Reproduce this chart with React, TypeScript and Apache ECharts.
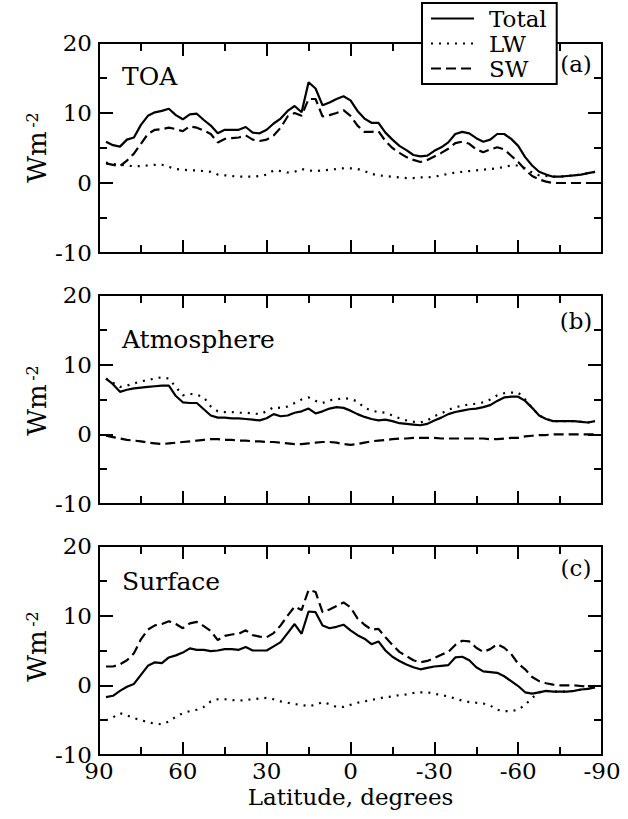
import React, { useEffect, useRef } from 'react';
import * as echarts from 'echarts';

const latitudes = [87.5, 85, 82.5, 80, 77.5, 75, 72.5, 70, 67.5, 65, 62.5, 60, 57.5, 55, 52.5, 50, 47.5, 45, 42.5, 40, 37.5, 35, 32.5, 30, 27.5, 25, 22.5, 20, 17.5, 15, 12.5, 10, 7.5, 5, 2.5, 0, -2.5, -5, -7.5, -10, -12.5, -15, -17.5, -20, -22.5, -25, -27.5, -30, -32.5, -35, -37.5, -40, -42.5, -45, -47.5, -50, -52.5, -55, -57.5, -60, -62.5, -65, -67.5, -70, -72.5, -75, -77.5, -80, -82.5, -85, -87.5];

const toaTotal = [5.9, 5.4, 5.2, 6.2, 6.5, 8.3, 9.6, 10.1, 10.3, 10.6, 9.7, 9.1, 9.8, 9.9, 9.0, 8.2, 7.1, 7.6, 7.6, 7.6, 8.0, 7.2, 7.1, 7.6, 8.5, 9.2, 10.3, 11.0, 10.1, 14.4, 13.5, 11.1, 11.5, 12.0, 12.4, 11.8, 10.3, 9.2, 8.6, 8.6, 7.2, 6.2, 5.3, 4.7, 4.0, 3.8, 3.9, 4.6, 5.1, 5.8, 7.0, 7.3, 7.1, 6.4, 5.9, 6.2, 7.0, 7.0, 6.3, 5.3, 3.7, 2.5, 1.6, 1.2, 0.9, 0.9, 1.0, 1.1, 1.2, 1.4, 1.6];
const toaLW = [2.9, 2.7, 2.6, 2.5, 2.4, 2.4, 2.5, 2.6, 2.6, 2.3, 2.0, 1.9, 1.8, 1.8, 1.7, 1.6, 1.2, 1.1, 1.0, 0.9, 0.9, 0.9, 1.0, 1.2, 1.8, 1.7, 1.5, 1.6, 2.0, 1.8, 1.7, 1.8, 1.9, 2.0, 2.1, 2.1, 2.0, 1.7, 1.3, 1.1, 1.0, 0.9, 0.8, 0.7, 0.7, 0.8, 0.8, 0.9, 1.1, 1.3, 1.5, 1.6, 1.7, 1.8, 1.9, 2.0, 2.1, 2.3, 2.5, 2.5, 2.1, 1.5, 1.1, 1.0, 0.9, 0.9, 1.0, 1.1, 1.2, 1.4, 1.6];
const toaSW = [2.8, 2.6, 2.4, 3.2, 4.2, 5.6, 7.0, 7.6, 7.7, 7.9, 7.7, 7.4, 8.1, 7.9, 7.5, 7.0, 5.8, 6.3, 6.4, 6.5, 6.8, 6.2, 6.0, 6.2, 6.8, 7.9, 9.5, 10.0, 9.6, 12.0, 12.0, 9.5, 9.7, 10.0, 10.4, 9.6, 8.2, 7.3, 7.3, 7.4, 6.0, 5.0, 4.3, 3.7, 3.3, 3.0, 3.3, 3.8, 4.3, 4.9, 5.7, 5.9, 5.6, 4.8, 4.4, 4.8, 5.1, 4.8, 3.9, 3.0, 1.9, 1.0, 0.5, 0.2, 0, 0, 0, 0, 0, 0, 0];

const atmTotal = [8.0, 7.2, 6.1, 6.4, 6.6, 6.7, 6.8, 6.9, 7.0, 7.0, 5.5, 4.6, 4.5, 4.5, 3.6, 2.7, 2.4, 2.4, 2.3, 2.3, 2.2, 2.1, 2.0, 2.3, 2.9, 2.6, 2.7, 3.1, 3.3, 3.7, 3.0, 3.3, 3.7, 3.9, 3.8, 3.4, 2.9, 2.5, 2.2, 2.0, 2.1, 1.9, 1.6, 1.5, 1.4, 1.3, 1.5, 2.0, 2.4, 2.9, 3.2, 3.4, 3.6, 3.7, 3.9, 4.2, 4.8, 5.3, 5.4, 5.4, 4.8, 3.8, 2.7, 2.2, 1.9, 1.9, 1.9, 1.9, 1.8, 1.7, 1.9];
const atmLW = [8.0, 7.4, 6.8, 7.0, 7.3, 7.6, 7.8, 8.0, 8.2, 8.0, 6.8, 5.6, 5.8, 5.7, 5.3, 4.0, 3.3, 3.2, 3.2, 3.1, 3.1, 3.0, 2.9, 3.3, 3.9, 3.8, 4.0, 4.5, 5.0, 5.3, 4.8, 4.5, 4.9, 5.0, 5.2, 5.1, 4.7, 3.8, 3.4, 3.2, 3.1, 2.7, 2.3, 2.0, 1.8, 1.7, 2.0, 2.6, 3.0, 3.5, 3.9, 4.1, 4.3, 4.4, 4.6, 5.0, 5.6, 5.9, 6.0, 6.0, 5.0, 3.8, 2.7, 2.2, 1.9, 1.9, 1.9, 1.9, 1.8, 1.7, 1.9];
const atmSW = [-0.2, -0.4, -0.6, -0.8, -0.9, -1.0, -1.2, -1.3, -1.4, -1.3, -1.2, -1.1, -1.0, -0.9, -0.8, -0.7, -0.7, -0.8, -0.8, -0.9, -0.9, -1.0, -1.0, -1.1, -1.1, -1.2, -1.3, -1.4, -1.4, -1.3, -1.2, -1.1, -1.1, -1.2, -1.4, -1.5, -1.4, -1.2, -1.0, -0.9, -0.8, -0.7, -0.6, -0.6, -0.5, -0.5, -0.5, -0.5, -0.6, -0.6, -0.6, -0.6, -0.6, -0.6, -0.6, -0.7, -0.7, -0.6, -0.5, -0.5, -0.3, -0.2, -0.1, -0.1, 0, 0, 0, 0, 0, 0, 0];

const sfcTotal = [-1.7, -1.5, -0.8, -0.2, 0.2, 1.5, 2.8, 3.3, 3.2, 4.0, 4.3, 4.7, 5.3, 5.1, 5.1, 4.9, 5.0, 5.2, 5.2, 5.1, 5.5, 5.0, 5.0, 5.0, 5.6, 6.2, 7.5, 8.8, 7.4, 10.6, 10.5, 8.6, 8.2, 8.4, 8.7, 7.9, 7.2, 6.7, 5.9, 6.3, 5.0, 4.1, 3.5, 3.0, 2.6, 2.3, 2.5, 2.7, 2.8, 2.9, 4.0, 4.1, 3.6, 2.6, 2.0, 1.9, 1.8, 1.3, 0.6, -0.1, -1.0, -1.2, -1.0, -0.8, -0.9, -0.9, -0.9, -0.8, -0.6, -0.5, -0.3];
const sfcLW = [-5.0, -4.6, -4.0, -4.3, -4.7, -5.0, -5.3, -5.5, -5.6, -5.2, -4.5, -4.0, -3.7, -3.5, -3.1, -2.3, -2.0, -2.0, -2.1, -2.2, -2.1, -2.0, -1.9, -1.8, -2.0, -2.3, -2.5, -2.7, -2.8, -3.0, -2.8, -2.4, -2.7, -3.1, -3.1, -2.8, -2.5, -2.3, -2.1, -1.9, -1.7, -1.6, -1.4, -1.3, -1.1, -1.0, -1.0, -1.2, -1.4, -1.6, -1.9, -2.2, -2.4, -2.5, -2.6, -2.9, -3.5, -3.7, -3.7, -3.5, -2.8, -1.8, -1.0, -0.8, -0.9, -0.9, -0.9, -0.8, -0.6, -0.5, -0.3];
const sfcSW = [2.7, 2.7, 3.0, 3.6, 4.6, 6.6, 8.0, 8.6, 8.8, 9.2, 8.8, 8.2, 8.9, 9.1, 8.5, 7.8, 6.5, 7.1, 7.3, 7.4, 7.9, 7.2, 7.0, 6.9, 7.5, 8.6, 10.0, 11.3, 10.8, 13.7, 13.4, 10.5, 10.9, 11.4, 11.9, 11.2, 9.6, 8.7, 8.0, 8.1, 6.9, 5.8, 4.8, 4.2, 3.6, 3.3, 3.5, 3.9, 4.4, 4.8, 5.8, 6.4, 6.3, 5.4, 4.8, 5.2, 5.9, 5.4, 4.5, 3.1, 2.3, 1.2, 0.6, 0.3, 0.1, 0, 0, 0, -0.1, -0.2, -0.2];

const seriesNames = ['Total', 'LW', 'SW'];
const panelTitles = ['TOA', 'Atmosphere', 'Surface'];
const panelTags = ['(a)', '(b)', '(c)'];
const xAxisTitle = 'Latitude, degrees';

const FONT = 'DejaVu Serif';

export default function App() {
  const ref = useRef<HTMLDivElement>(null);

  useEffect(() => {
    if (!ref.current) return;
    const chart = echarts.init(ref.current, null, { renderer: 'svg' });

    const grids = [
      { left: 99, top: 43, width: 503, height: 210 },
      { left: 99, top: 295, width: 503, height: 209 },
      { left: 99, top: 546, width: 503, height: 209 },
    ];
    const panels = [
      [toaTotal, toaLW, toaSW],
      [atmTotal, atmLW, atmSW],
      [sfcTotal, sfcLW, sfcSW],
    ];
    const lineStyles: any[] = [
      { color: '#000', width: 2.2, type: 'solid' },
      { color: '#000', width: 2.2, type: [2, 6] },
      { color: '#000', width: 2.2, type: [10, 5] },
    ];

    const line = { show: true, onZero: false, lineStyle: { color: '#000', width: 2 } };
    const tick = { show: true, inside: true, length: 13, lineStyle: { color: '#000', width: 2 } };
    const minor = { show: true, splitNumber: 2, length: 8, lineStyle: { color: '#000', width: 2 } };

    const xAxes: any[] = [];
    const yAxes: any[] = [];
    const series: any[] = [];

    grids.forEach((_, i) => {
      const xCommon = {
        gridIndex: i, type: 'value', min: -90, max: 90, interval: 30, inverse: true,
        axisLine: line, axisTick: tick, minorTick: minor,
        splitLine: { show: false }, minorSplitLine: { show: false },
      };
      const last = i === grids.length - 1;
      xAxes.push({
        ...xCommon, position: 'bottom',
        axisLabel: { show: last, fontFamily: FONT, fontSize: 23, color: '#000', margin: 4 },
        name: last ? xAxisTitle : '', nameLocation: 'middle', nameGap: 30,
        nameTextStyle: { fontFamily: FONT, fontSize: 23, color: '#000' },
      });
      xAxes.push({ ...xCommon, position: 'top', axisLabel: { show: false } });

      const yCommon = {
        gridIndex: i, type: 'value', min: -10, max: 20, interval: 10,
        axisLine: line, axisTick: { ...tick, length: 14 }, minorTick: minor,
        splitLine: { show: false }, minorSplitLine: { show: false },
      };
      yAxes.push({
        ...yCommon, position: 'left',
        axisLabel: { show: true, fontFamily: FONT, fontSize: 23, color: '#000', margin: 7 },
      });
      yAxes.push({ ...yCommon, position: 'right', axisLabel: { show: false } });

      panels[i].forEach((vals, s) => {
        series.push({
          type: 'line', name: seriesNames[s],
          xAxisIndex: 2 * i, yAxisIndex: 2 * i,
          data: latitudes.map((lat, k) => [lat, vals[k]]),
          symbol: 'none', showSymbol: false,
          lineStyle: lineStyles[s], itemStyle: { color: '#000' },
          silent: true, z: 2,
        });
      });
    });

    const titleY = [76, 339, 581];
    const tagY = [64, 321, 568];
    const unitY = [157, 410, 656];
    const graphic: any[] = [];
    grids.forEach((_, i) => {
      graphic.push({
        type: 'text', x: 122, y: titleY[i], z: 10,
        style: { text: panelTitles[i], fontFamily: FONT, fontSize: 25, fill: '#000', align: 'left', verticalAlign: 'middle' },
      });
      graphic.push({
        type: 'text', x: 576, y: tagY[i], z: 10,
        style: { text: panelTags[i], fontFamily: FONT, fontSize: 23, fill: '#000', align: 'center', verticalAlign: 'middle' },
      });
      graphic.push({
        type: 'text', x: 37, y: unitY[i], rotation: Math.PI / 2, z: 10,
        style: { text: 'Wm', fontFamily: FONT, fontSize: 26, fill: '#000', align: 'center', verticalAlign: 'middle' },
      });
      graphic.push({
        type: 'text', x: 32, y: unitY[i] - 37, rotation: Math.PI / 2, z: 10,
        style: { text: '-2', fontFamily: FONT, fontSize: 16, fill: '#000', align: 'center', verticalAlign: 'middle' },
      });
    });

    chart.setOption({
      animation: false,
      backgroundColor: '#fff',
      textStyle: { fontFamily: FONT, color: '#000' },
      grid: grids,
      xAxis: xAxes,
      yAxis: yAxes,
      legend: {
        show: true, data: seriesNames, orient: 'vertical', left: 422, top: 3,
        itemWidth: 43, itemHeight: 26, itemGap: 2,
        padding: [4, 10, 4, 8],
        backgroundColor: '#fff', borderColor: '#000', borderWidth: 2,
        itemStyle: { opacity: 0, color: 'rgba(0,0,0,0)', borderWidth: 0 },
        textStyle: { fontFamily: FONT, fontSize: 23, color: '#000', padding: [0, 0, 0, 10] },
        selectedMode: false, z: 20,
      },
      series,
      graphic,
    });

    return () => chart.dispose();
  }, []);

  return <div ref={ref} style={{ position: 'fixed', left: 0, top: 0, width: 628, height: 819, background: '#fff' }} />;
}
